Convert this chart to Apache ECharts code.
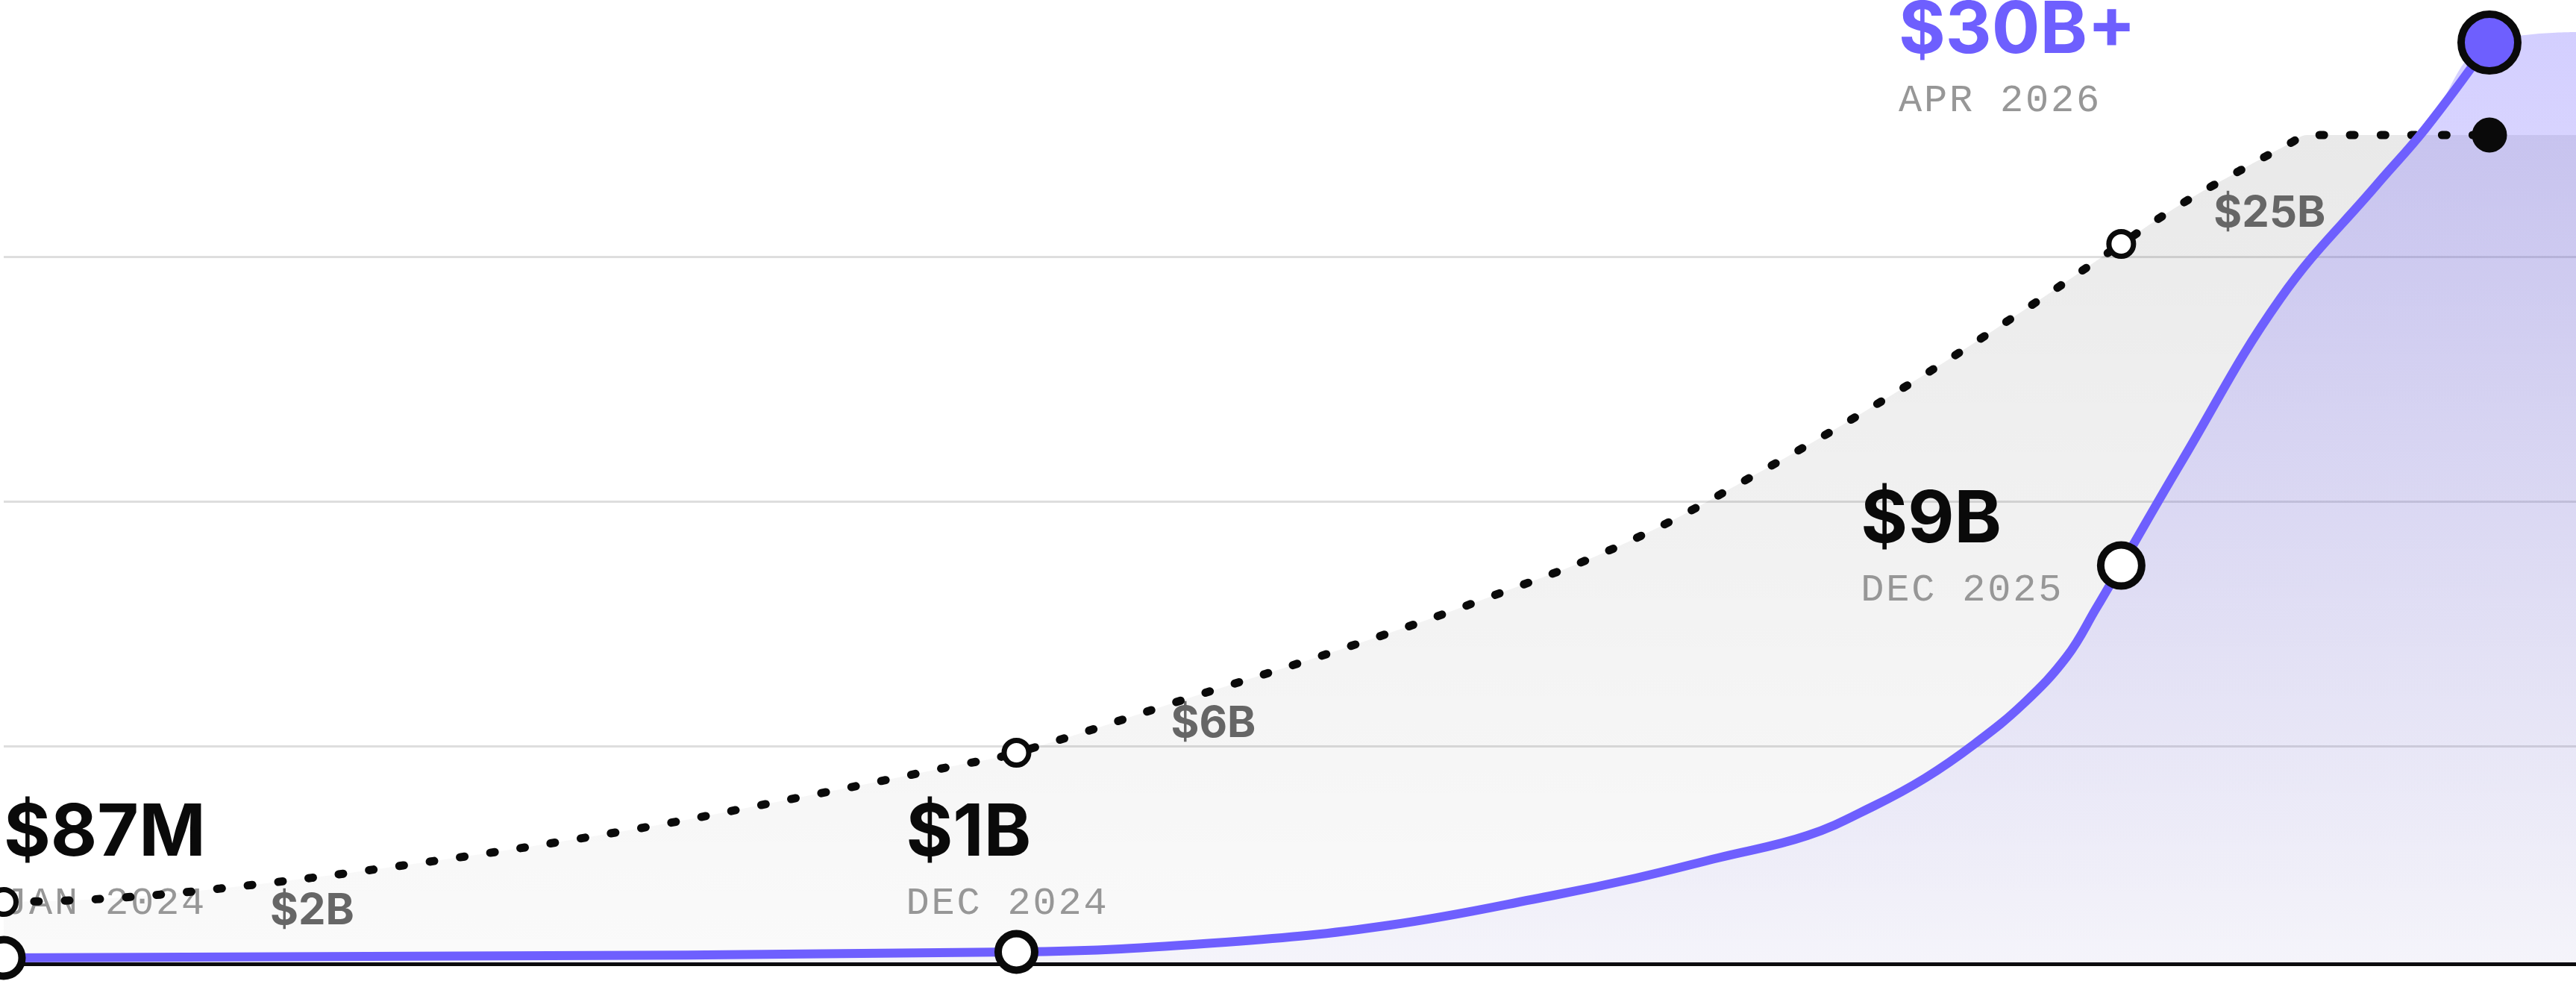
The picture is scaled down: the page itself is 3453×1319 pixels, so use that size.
<!DOCTYPE html>
<html>
<head>
<meta charset="utf-8">
<script src="https://cdn.jsdelivr.net/npm/echarts@6/dist/echarts.min.js"></script>
<style>
html,body{margin:0;padding:0;background:#ffffff;}
#c{width:3453px;height:1319px;}
</style>
</head>
<body>
<div id="c"></div>
<script>
// ---- Data (x = months since Jan 2024, y = plotted height, in chart units above the baseline) ----
const revMonths  = [0, 11, 13.27, 15.06, 16.84, 17.73, 18.62, 19.59, 20.32, 20.87, 21.41, 21.94, 22.41, 22.73, 23, 23.65, 24.73, 25.78, 26.3, 27];
const revHeights = [8, 16, 29, 52, 92, 115, 142, 172, 212, 249, 295, 349, 412, 477, 534, 672, 892, 1045, 1119, 1235];

const compMonths  = [0, 1.05, 2.35, 4.34, 6.69, 8.64, 10.31, 11, 12.89, 14.51, 16.08, 17.65, 19.13, 20.58, 21.99, 23, 23.66, 24.27, 24.85, 25.02, 27];
const compHeights = [83, 87, 101, 132, 177, 223, 265, 283, 357, 421, 489, 566, 663, 768, 880, 965, 1019, 1062, 1101, 1111, 1111];

const areaEndMonth = 27.94;
const revAreaEnd = 1249;
const compAreaEnd = 1111;

const keyMonths = [0, 11, 23, 27];
const keyValues = ['$87M', '$1B', '$9B', '$30B+'];
const keyDates  = ['JAN 2024', 'DEC 2024', 'DEC 2025', 'APR 2026'];

const compKeyMonths = [0, 11, 23];
const compValues = ['$2B', '$6B', '$25B'];
const compEndMonth = 27;

const gridTicks = [-36, 292, 620, 948, 1276];

// ---- Styles / positions ----
const PURPLE = '#6E5FFE';
const INK = '#0a0a0a';
const keyMarkerSizes = [49, 49, 55, 76];
const keyLabelOffsets = [[0, -225], [-148, -217], [-349, -119], [-792, -74]];
const compLabelOffsets = [[357, 13], [207, -38], [124, -40]];

function pairs(ms, hs) { return ms.map((m, i) => [m, hs[i]]); }
function heightAt(ms, hs, m) { return hs[ms.indexOf(m)]; }

const revLine = pairs(revMonths, revHeights);
const revArea = revLine.concat([[areaEndMonth, revAreaEnd]]);
const compLine = pairs(compMonths, compHeights);
const compArea = compLine.concat([[areaEndMonth, compAreaEnd]]);

const chart = echarts.init(document.getElementById('c'), null, {renderer: 'canvas'});

const dateText = s => s.split('').map(ch => '{d|' + ch + '}').join('');

const option = {
  animation: false,
  backgroundColor: '#ffffff',
  grid: {left: 5, right: 0, top: 16, bottom: -9, containLabel: false, outerBoundsMode: 'none'},
  xAxis: {
    type: 'value', min: 0, max: areaEndMonth,
    axisLine: {show: true, onZero: true, lineStyle: {color: INK, width: 5}},
    axisTick: {show: false}, axisLabel: {show: false}, splitLine: {show: false}
  },
  yAxis: {
    type: 'value', min: gridTicks[0], max: gridTicks[gridTicks.length - 1],
    interval: gridTicks[1] - gridTicks[0],
    axisLine: {show: false}, axisTick: {show: false}, axisLabel: {show: false},
    splitLine: {show: true, showMinLine: false, showMaxLine: false, lineStyle: {color: '#dedede', width: 3}}
  },
  series: [
    { // grey area under the dotted line
      type: 'line', z: 1, data: compArea, smooth: 0.4, symbol: 'none', silent: true,
      lineStyle: {width: 0, opacity: 0},
      areaStyle: {opacity: 1, color: new echarts.graphic.LinearGradient(0, 0, 0, 1, [
        {offset: 0, color: 'rgba(0,0,0,0.085)'},
        {offset: 1, color: 'rgba(0,0,0,0.018)'}
      ])}
    },
    { // purple area
      type: 'line', z: 2, data: revArea, smooth: 0.4, symbol: 'none', silent: true,
      lineStyle: {width: 0, opacity: 0},
      areaStyle: {opacity: 1, color: new echarts.graphic.LinearGradient(0, 0, 0, 1, [
        {offset: 0, color: 'rgba(110,95,254,0.30)'},
        {offset: 1, color: 'rgba(110,95,254,0.04)'}
      ])}
    },
    { // value/date labels for the purple series
      type: 'scatter', z: 3, symbol: 'circle', symbolSize: 1, silent: true,
      itemStyle: {color: 'rgba(0,0,0,0)', opacity: 1},
      data: keyMonths.map((m, i) => ({value: [m, heightAt(revMonths, revHeights, m)], label: {offset: keyLabelOffsets[i]}})),
      label: {
        show: true, position: 'top', distance: 0, align: 'left', verticalAlign: 'top',
        textBorderWidth: 0, opacity: 1,
        formatter: p => '{' + (p.dataIndex === 3 ? 'vp' : 'v') + '|' + keyValues[p.dataIndex] + '}\n' + dateText(keyDates[p.dataIndex]),
        rich: {
          v:  {fontFamily: 'Inter', fontWeight: 700, fontSize: 96, lineHeight: 120, color: INK},
          vp: {fontFamily: 'Inter', fontWeight: 700, fontSize: 96, lineHeight: 120, color: PURPLE},
          d:  {fontFamily: 'Liberation Mono', fontSize: 52, lineHeight: 66, color: '#979797', width: 34, align: 'left'}
        }
      }
    },
    { // labels for the dotted series
      type: 'scatter', z: 3, symbol: 'circle', symbolSize: 1, silent: true,
      itemStyle: {color: 'rgba(0,0,0,0)', opacity: 1},
      data: compKeyMonths.map((m, i) => ({value: [m, heightAt(compMonths, compHeights, m)], label: {offset: compLabelOffsets[i]}})),
      label: {
        show: true, position: 'top', distance: 0, align: 'left', verticalAlign: 'middle',
        textBorderWidth: 0, opacity: 1,
        formatter: p => compValues[p.dataIndex],
        fontFamily: 'Inter', fontWeight: 700, fontSize: 58, color: '#666666'
      }
    },
    { // dotted line
      type: 'line', z: 4, data: compLine, smooth: 0.4, symbol: 'none', silent: true,
      lineStyle: {color: INK, width: 11, type: [6, 35], cap: 'round'}
    },
    { // purple line
      type: 'line', z: 5, data: revLine, smooth: 0.4, symbol: 'none', silent: true,
      lineStyle: {color: PURPLE, width: 12, cap: 'round'}
    },
    { // dotted series markers
      type: 'scatter', z: 6, silent: true,
      data: compKeyMonths.map(m => ({
        value: [m, heightAt(compMonths, compHeights, m)], symbolSize: 33,
        itemStyle: {color: '#ffffff', borderColor: INK, borderWidth: 7, opacity: 1}
      })).concat([{
        value: [compEndMonth, heightAt(compMonths, compHeights, compEndMonth)], symbolSize: 47,
        itemStyle: {color: INK, borderWidth: 0, opacity: 1}
      }])
    },
    { // purple series markers
      type: 'scatter', z: 7, silent: true,
      data: keyMonths.map((m, i) => ({
        value: [m, heightAt(revMonths, revHeights, m)], symbolSize: keyMarkerSizes[i],
        itemStyle: {color: i === 3 ? PURPLE : '#ffffff', borderColor: INK, borderWidth: 10, opacity: 1}
      }))
    }
  ]
};
chart.setOption(option);
</script>
</body>
</html>
